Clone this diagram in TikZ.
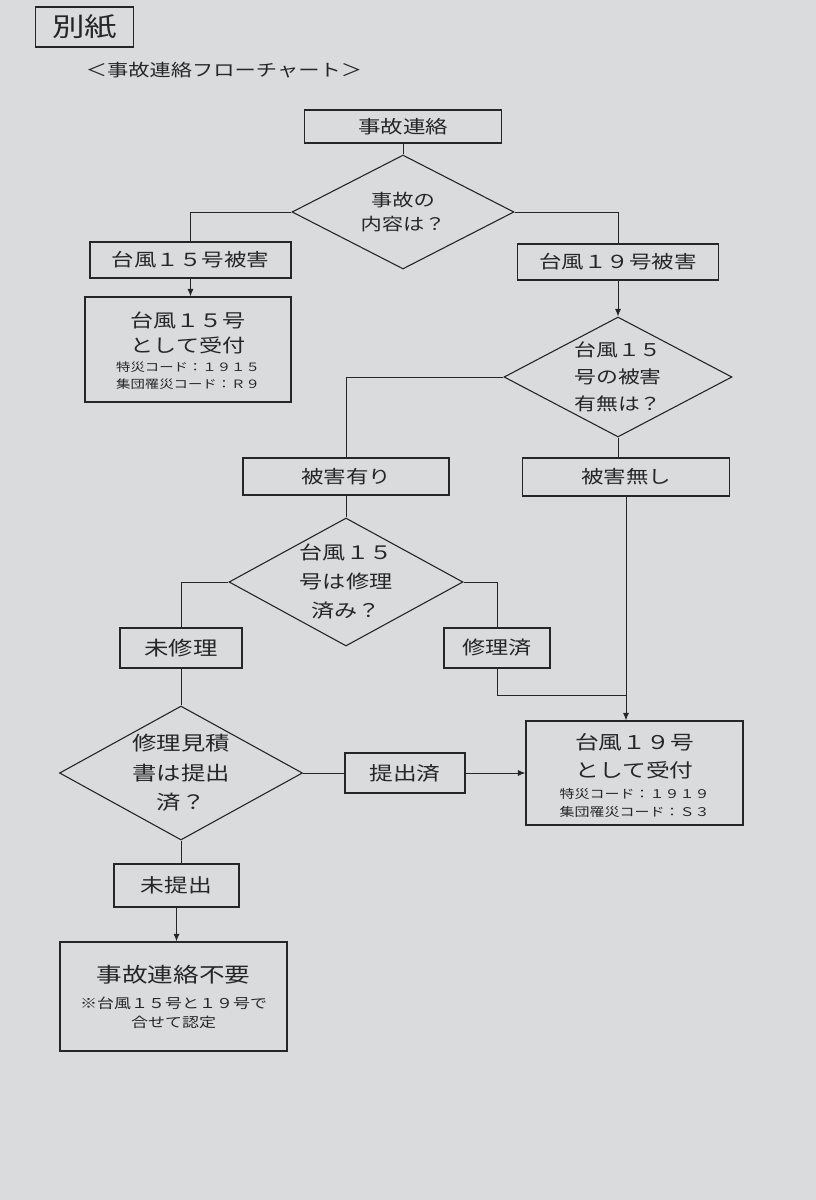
\documentclass[tikz,border=0pt]{standalone}
\usepackage{fontspec}
\newfontfamily\jp[FakeStretch=1.25]{Noto Sans CJK JP}
\usetikzlibrary{shapes.geometric,arrows.meta}
\definecolor{paper}{RGB}{217,219,220}
\definecolor{ink}{RGB}{38,38,38}
\newcommand\fsz[2]{\fontsize{#1pt}{#2pt}\selectfont}
\begin{document}
\begin{tikzpicture}[x=1pt,y=-1pt,
  box/.style={draw=ink, line width=1.1pt, rectangle, inner sep=0pt, text=ink, font=\jp\fsz{18}{20}},
  dia/.style={draw=ink, line width=1.1pt, diamond, inner sep=0pt, shape aspect=1.85, align=center, text=ink},
  txt/.style={inner sep=0pt, text=ink},
  ln/.style={draw=ink, line width=1pt},
  arr/.style={ln, -{Latex[length=7.5pt,width=6pt]}}]
\fill[paper] (0,0) rectangle (816,1200);
\path[use as bounding box] (0,0) rectangle (816,1200);

\node[box, line width=1.4pt, minimum width=98pt, minimum height=40pt, font=\jp\fsz{26}{28}] (bessi) at (84.5,27) {別紙};
\node[txt, font=\jp\fsz{17}{19}] (title) at (224,70) {＜事故連絡フローチャート＞};

\node[box, minimum width=197pt, minimum height=33pt] (start) at (403,126.5) {事故連絡};
\node[dia, minimum width=222pt, minimum height=114pt, font=\jp\fsz{17}{24}] (d1) at (403,212) {事故の\\内容は？};

\node[box, minimum width=201pt, minimum height=36pt] (b15) at (190.5,260) {台風１５号被害};
\node[box, minimum width=201pt, minimum height=36pt] (b19) at (618,262) {台風１９号被害};

\node[box, minimum width=206pt, minimum height=105pt] (r15) at (188,349.5) {};
\node[txt, font=\jp\fsz{18.5}{20}] (r15a) at (188,320) {台風１５号};
\node[txt, font=\jp\fsz{18.5}{20}] (r15b) at (188,345) {として受付};
\node[txt, font=\jp\fsz{11.5}{13}] (r15c) at (188,367) {特災コード：１９１５};
\node[txt, font=\jp\fsz{11.5}{13}] (r15d) at (188,384) {集団罹災コード：Ｒ９};

\node[dia, minimum width=228pt, minimum height=120pt, font=\jp\fsz{17.5}{27}] (d2) at (618,377) {台風１５\\号の被害\\有無は？};

\node[box, minimum width=206pt, minimum height=37pt] (yes) at (346,476.5) {被害有り};
\node[box, minimum width=207pt, minimum height=38pt] (no) at (626,477) {被害無し};

\node[dia, minimum width=234pt, minimum height=128pt, font=\jp\fsz{18.5}{29}] (d3) at (346,582) {台風１５\\号は修理\\済み？};

\node[box, minimum width=122pt, minimum height=40pt, font=\jp\fsz{19.5}{21}] (mishu) at (181,648) {未修理};
\node[box, minimum width=106pt, minimum height=40pt, font=\jp\fsz{18.5}{20}] (shuri) at (497,648) {修理済};

\node[dia, minimum width=243pt, minimum height=134pt, font=\jp\fsz{19.5}{29.5}] (d4) at (181,773) {修理見積\\書は提出\\済？};

\node[box, minimum width=120pt, minimum height=40pt, font=\jp\fsz{19}{21}] (teishutsu) at (405,773) {提出済};

\node[box, minimum width=217pt, minimum height=104pt] (r19) at (634.5,773) {};
\node[txt, font=\jp\fsz{19}{21}] (r19a) at (634.5,742) {台風１９号};
\node[txt, font=\jp\fsz{19}{21}] (r19b) at (634.5,770) {として受付};
\node[txt, font=\jp\fsz{12}{14}] (r19c) at (634.5,794) {特災コード：１９１９};
\node[txt, font=\jp\fsz{12}{14}] (r19d) at (634.5,812) {集団罹災コード：Ｓ３};

\node[box, minimum width=125pt, minimum height=43pt, font=\jp\fsz{19}{21}] (mitei) at (176.5,885.5) {未提出};

\node[box, minimum width=227pt, minimum height=109pt] (fuyou) at (173.5,996.5) {};
\node[txt, font=\jp\fsz{20.5}{22}] (fuyoua) at (173.5,975) {事故連絡不要};
\node[txt, font=\jp\fsz{13.6}{15}] (fuyoub) at (173.5,1003) {※台風１５号と１９号で};
\node[txt, font=\jp\fsz{13.6}{15}] (fuyouc) at (173.5,1022) {合せて認定};

\coordinate (j) at (626,695);

\draw[ln] (start.south) -- (d1.north);
\draw[ln] (d1.west) -| (b15.north);
\draw[ln] (d1.east) -| (b19.north);
\draw[arr] (b15.south) -- (b15.south |- r15.north);
\draw[arr] (b19.south) -- (d2.north);
\draw[ln] (d2.west) -| (yes.north);
\draw[ln] (d2.south) -- (d2.south |- no.north);
\draw[ln] (yes.south) -- (d3.north);
\draw[ln] (d3.west) -| (mishu.north);
\draw[ln] (d3.east) -| (shuri.north);
\draw[ln] (no.south) -- (j);
\draw[ln] (shuri.south) |- (j);
\draw[arr] (j) -- (j |- r19.north);
\draw[ln] (mishu.south) -- (d4.north);
\draw[ln] (d4.east) -- (teishutsu.west);
\draw[arr] (teishutsu.east) -- (r19.west);
\draw[ln] (d4.south) -- (d4.south |- mitei.north);
\draw[arr] (mitei.south) -- (mitei.south |- fuyou.north);
\end{tikzpicture}
\end{document}
